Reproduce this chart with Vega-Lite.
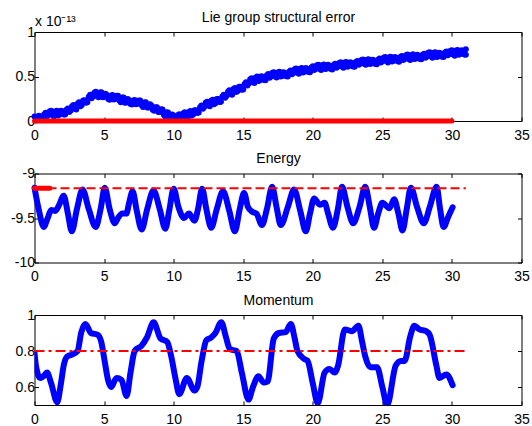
{
  "$schema": "https://vega.github.io/schema/vega-lite/v6.json",
  "padding": {"left": 9.5, "top": 9, "right": 0, "bottom": 0},
  "spacing": 7.5,
  "config": {
    "font": "Liberation Sans",
    "locale": {"number": {"decimal": ".", "thousands": ",", "grouping": [3], "currency": ["$", ""], "minus": "-"}},
    "view": {"stroke": "black", "strokeWidth": 1},
    "axis": {"grid": false, "domain": false, "tickColor": "black", "tickSize": -4, "labelColor": "black", "labelFontSize": 14, "labelPadding": 4, "labelFlush": false, "labelOverlap": false, "titleColor": "black", "titleFontWeight": "normal", "titleFontSize": 14, "format": "~g"},
    "axisBottom": {"labelPadding": 11}
  },
  "datasets": {
    "lie": [
      {"t":0,"v":0.05},{"t":0.2,"v":0.012},{"t":0.4,"v":0.054},{"t":0.6,"v":0.021},{"t":0.8,"v":0.093},{"t":1.0,"v":0.07},{"t":1.2,"v":0.115},{"t":1.4,"v":0.05},{"t":1.6,"v":0.114},{"t":1.8,"v":0.072},
      {"t":2.0,"v":0.11},{"t":2.2,"v":0.073},{"t":2.4,"v":0.141},{"t":2.6,"v":0.118},{"t":2.8,"v":0.179},{"t":3.0,"v":0.13},{"t":3.2,"v":0.21},{"t":3.4,"v":0.18},{"t":3.6,"v":0.232},{"t":3.8,"v":0.211},
      {"t":4.0,"v":0.295},{"t":4.2,"v":0.272},{"t":4.4,"v":0.329},{"t":4.6,"v":0.268},{"t":4.8,"v":0.324},{"t":5.0,"v":0.27},{"t":5.2,"v":0.292},{"t":5.4,"v":0.239},{"t":5.6,"v":0.291},{"t":5.8,"v":0.248},
      {"t":6.0,"v":0.285},{"t":6.2,"v":0.212},{"t":6.4,"v":0.264},{"t":6.6,"v":0.208},{"t":6.8,"v":0.234},{"t":7.0,"v":0.185},{"t":7.2,"v":0.237},{"t":7.4,"v":0.194},{"t":7.6,"v":0.231},{"t":7.8,"v":0.158},
      {"t":8.0,"v":0.21},{"t":8.2,"v":0.152},{"t":8.4,"v":0.174},{"t":8.6,"v":0.115},{"t":8.8,"v":0.155},{"t":9.0,"v":0.1},{"t":9.2,"v":0.129},{"t":9.4,"v":0.048},{"t":9.6,"v":0.096},{"t":9.8,"v":0.038},
      {"t":10.0,"v":0.06},{"t":10.2,"v":0.015},{"t":10.4,"v":0.075},{"t":10.6,"v":0.044},{"t":10.8,"v":0.097},{"t":11.0,"v":0.04},{"t":11.2,"v":0.112},{"t":11.4,"v":0.074},{"t":11.6,"v":0.12},{"t":11.8,"v":0.095},
      {"t":12.0,"v":0.175},{"t":12.2,"v":0.156},{"t":12.4,"v":0.217},{"t":12.6,"v":0.166},{"t":12.8,"v":0.238},{"t":13.0,"v":0.2},{"t":13.2,"v":0.246},{"t":13.4,"v":0.217},{"t":13.6,"v":0.295},{"t":13.8,"v":0.28},
      {"t":14.0,"v":0.345},{"t":14.2,"v":0.296},{"t":14.4,"v":0.372},{"t":14.6,"v":0.338},{"t":14.8,"v":0.384},{"t":15.0,"v":0.355},{"t":15.2,"v":0.435},{"t":15.4,"v":0.42},{"t":15.6,"v":0.481},{"t":15.8,"v":0.428},
      {"t":16.0,"v":0.5},{"t":16.2,"v":0.458},{"t":16.4,"v":0.496},{"t":16.6,"v":0.459},{"t":16.8,"v":0.527},{"t":17.0,"v":0.5},{"t":17.2,"v":0.549},{"t":17.4,"v":0.488},{"t":17.6,"v":0.552},{"t":17.8,"v":0.506},
      {"t":18.0,"v":0.54},{"t":18.2,"v":0.501},{"t":18.4,"v":0.567},{"t":18.6,"v":0.538},{"t":18.8,"v":0.589},{"t":19.0,"v":0.53},{"t":19.2,"v":0.596},{"t":19.4,"v":0.552},{"t":19.6,"v":0.588},{"t":19.8,"v":0.549},
      {"t":20.0,"v":0.615},{"t":20.2,"v":0.584},{"t":20.4,"v":0.633},{"t":20.6,"v":0.572},{"t":20.8,"v":0.636},{"t":21.0,"v":0.59},{"t":21.2,"v":0.622},{"t":21.4,"v":0.579},{"t":21.6,"v":0.642},{"t":21.8,"v":0.611},
      {"t":22.0,"v":0.66},{"t":22.2,"v":0.599},{"t":22.4,"v":0.663},{"t":22.6,"v":0.617},{"t":22.8,"v":0.651},{"t":23.0,"v":0.61},{"t":23.2,"v":0.674},{"t":23.4,"v":0.643},{"t":23.6,"v":0.692},{"t":23.8,"v":0.631},
      {"t":24.0,"v":0.695},{"t":24.2,"v":0.647},{"t":24.4,"v":0.679},{"t":24.6,"v":0.637},{"t":24.8,"v":0.701},{"t":25.0,"v":0.67},{"t":25.2,"v":0.719},{"t":25.4,"v":0.658},{"t":25.6,"v":0.722},{"t":25.8,"v":0.676},
      {"t":26.0,"v":0.71},{"t":26.2,"v":0.667},{"t":26.4,"v":0.729},{"t":26.6,"v":0.697},{"t":26.8,"v":0.746},{"t":27.0,"v":0.685},{"t":27.2,"v":0.749},{"t":27.4,"v":0.703},{"t":27.6,"v":0.736},{"t":27.8,"v":0.693},
      {"t":28.0,"v":0.755},{"t":28.2,"v":0.724},{"t":28.4,"v":0.773},{"t":28.6,"v":0.711},{"t":28.8,"v":0.773},{"t":29.0,"v":0.725},{"t":29.2,"v":0.759},{"t":29.4,"v":0.718},{"t":29.6,"v":0.782},{"t":29.8,"v":0.749},
      {"t":30.0,"v":0.795},{"t":30.2,"v":0.734},{"t":30.4,"v":0.798},{"t":30.6,"v":0.752},{"t":30.8,"v":0.786},{"t":31.0,"v":0.745},{"t":31.0,"v":0.805},
      {"t":0.1,"v":0.005},{"t":0.3,"v":0.058},{"t":0.5,"v":0.02},{"t":0.7,"v":0.077},{"t":0.9,"v":0.054},{"t":1.1,"v":0.11},{"t":1.3,"v":0.065},{"t":1.5,"v":0.107},{"t":1.7,"v":0.063},{"t":1.9,"v":0.116},
      {"t":2.1,"v":0.074},{"t":2.3,"v":0.127},{"t":2.5,"v":0.102},{"t":2.7,"v":0.166},{"t":2.9,"v":0.137},{"t":3.1,"v":0.195},{"t":3.3,"v":0.165},{"t":3.5,"v":0.231},{"t":3.7,"v":0.204},{"t":3.9,"v":0.273},
      {"t":4.1,"v":0.256},{"t":4.3,"v":0.318},{"t":4.5,"v":0.281},{"t":4.7,"v":0.321},{"t":4.9,"v":0.267},{"t":5.1,"v":0.306},{"t":5.3,"v":0.248},{"t":5.5,"v":0.285},{"t":5.7,"v":0.242},{"t":5.9,"v":0.284},
      {"t":6.1,"v":0.231},{"t":6.3,"v":0.263},{"t":6.5,"v":0.206},{"t":6.7,"v":0.246},{"t":6.9,"v":0.192},{"t":7.1,"v":0.231},{"t":7.3,"v":0.188},{"t":7.5,"v":0.23},{"t":7.7,"v":0.177},{"t":7.9,"v":0.209},
      {"t":8.1,"v":0.151},{"t":8.3,"v":0.188},{"t":8.5,"v":0.127},{"t":8.7,"v":0.155},{"t":8.9,"v":0.1},{"t":9.1,"v":0.132},{"t":9.3,"v":0.071},{"t":9.5,"v":0.097},{"t":9.7,"v":0.037},{"t":9.9,"v":0.074},
      {"t":10.1,"v":0.02},{"t":10.3,"v":0.065},{"t":10.5,"v":0.032},{"t":10.7,"v":0.088},{"t":10.9,"v":0.051},{"t":11.1,"v":0.101},{"t":11.3,"v":0.063},{"t":11.5,"v":0.122},{"t":11.7,"v":0.09},{"t":11.9,"v":0.155},
      {"t":12.1,"v":0.138},{"t":12.3,"v":0.204},{"t":12.5,"v":0.174},{"t":12.7,"v":0.227},{"t":12.9,"v":0.189},{"t":13.1,"v":0.248},{"t":13.3,"v":0.214},{"t":13.5,"v":0.276},{"t":13.7,"v":0.26},{"t":13.9,"v":0.33},
      {"t":14.1,"v":0.303},{"t":14.3,"v":0.359},{"t":14.5,"v":0.325},{"t":14.7,"v":0.386},{"t":14.9,"v":0.352},{"t":15.1,"v":0.415},{"t":15.3,"v":0.4},{"t":15.5,"v":0.468},{"t":15.7,"v":0.437},{"t":15.9,"v":0.489},
      {"t":16.1,"v":0.449},{"t":16.3,"v":0.502},{"t":16.5,"v":0.46},{"t":16.7,"v":0.513},{"t":16.9,"v":0.486},{"t":17.1,"v":0.542},{"t":17.3,"v":0.501},{"t":17.5,"v":0.545},{"t":17.7,"v":0.499},{"t":17.9,"v":0.548},
      {"t":18.1,"v":0.503},{"t":18.3,"v":0.554},{"t":18.5,"v":0.525},{"t":18.7,"v":0.581},{"t":18.9,"v":0.542},{"t":19.1,"v":0.588},{"t":19.3,"v":0.544},{"t":19.5,"v":0.595},{"t":19.7,"v":0.551},{"t":19.9,"v":0.602},
      {"t":20.1,"v":0.572},{"t":20.3,"v":0.626},{"t":20.5,"v":0.585},{"t":20.7,"v":0.629},{"t":20.9,"v":0.583},{"t":21.1,"v":0.631},{"t":21.3,"v":0.583},{"t":21.5,"v":0.63},{"t":21.7,"v":0.599},{"t":21.9,"v":0.653},
      {"t":22.1,"v":0.612},{"t":22.3,"v":0.656},{"t":22.5,"v":0.61},{"t":22.7,"v":0.659},{"t":22.9,"v":0.613},{"t":23.1,"v":0.662},{"t":23.3,"v":0.631},{"t":23.5,"v":0.685},{"t":23.7,"v":0.644},{"t":23.9,"v":0.688},
      {"t":24.1,"v":0.641},{"t":24.3,"v":0.688},{"t":24.5,"v":0.64},{"t":24.7,"v":0.689},{"t":24.9,"v":0.658},{"t":25.1,"v":0.712},{"t":25.3,"v":0.671},{"t":25.5,"v":0.715},{"t":25.7,"v":0.669},{"t":25.9,"v":0.718},
      {"t":26.1,"v":0.671},{"t":26.3,"v":0.718},{"t":26.5,"v":0.685},{"t":26.7,"v":0.739},{"t":26.9,"v":0.698},{"t":27.1,"v":0.742},{"t":27.3,"v":0.696},{"t":27.5,"v":0.745},{"t":27.7,"v":0.697},{"t":27.9,"v":0.744},
      {"t":28.1,"v":0.712},{"t":28.3,"v":0.766},{"t":28.5,"v":0.725},{"t":28.7,"v":0.767},{"t":28.9,"v":0.719},{"t":29.1,"v":0.767},{"t":29.3,"v":0.721},{"t":29.5,"v":0.77},{"t":29.7,"v":0.738},{"t":29.9,"v":0.79},
      {"t":30.1,"v":0.747},{"t":30.3,"v":0.791},{"t":30.5,"v":0.745},{"t":30.7,"v":0.794},{"t":30.9,"v":0.748}
    ],
    "lieRef": [{"t":0,"v":0},{"t":30,"v":0}],
    "energy": [
      {"t":0,"v":-9.16},{"t":0.3,"v":-9.4},{"t":0.66,"v":-9.6},{"t":0.95,"v":-9.5},{"t":1.2,"v":-9.41},{"t":1.5,"v":-9.42},{"t":1.75,"v":-9.36},{"t":2.1,"v":-9.25},{"t":2.4,"v":-9.45},{"t":2.68,"v":-9.65},{"t":3.05,"v":-9.4},{"t":3.45,"v":-9.18},{"t":3.9,"v":-9.4},{"t":4.4,"v":-9.6},{"t":4.75,"v":-9.4},{"t":5.05,"v":-9.16},{"t":5.4,"v":-9.4},{"t":5.77,"v":-9.56},{"t":6.0,"v":-9.5},{"t":6.3,"v":-9.45},{"t":6.6,"v":-9.45},{"t":6.8,"v":-9.33},{"t":7.05,"v":-9.2},{"t":7.35,"v":-9.42},{"t":7.7,"v":-9.63},{"t":8.1,"v":-9.4},{"t":8.55,"v":-9.19},{"t":9.0,"v":-9.4},{"t":9.4,"v":-9.62},{"t":9.7,"v":-9.4},{"t":10.0,"v":-9.17},{"t":10.35,"v":-9.38},{"t":10.75,"v":-9.5},{"t":11.1,"v":-9.45},{"t":11.5,"v":-9.53},{"t":11.75,"v":-9.4},{"t":12.05,"v":-9.17},{"t":12.35,"v":-9.4},{"t":12.7,"v":-9.61},{"t":13.1,"v":-9.4},{"t":13.55,"v":-9.2},{"t":14.0,"v":-9.42},{"t":14.4,"v":-9.65},{"t":14.75,"v":-9.4},{"t":15.06,"v":-9.22},{"t":15.35,"v":-9.38},{"t":15.65,"v":-9.43},{"t":15.95,"v":-9.45},{"t":16.35,"v":-9.58},{"t":16.7,"v":-9.4},{"t":17.08,"v":-9.15},{"t":17.4,"v":-9.38},{"t":17.7,"v":-9.58},{"t":18.2,"v":-9.38},{"t":18.66,"v":-9.18},{"t":19.1,"v":-9.42},{"t":19.5,"v":-9.65},{"t":19.8,"v":-9.45},{"t":20.1,"v":-9.28},{"t":20.5,"v":-9.35},{"t":20.85,"v":-9.33},{"t":21.1,"v":-9.45},{"t":21.45,"v":-9.61},{"t":21.8,"v":-9.4},{"t":22.1,"v":-9.15},{"t":22.5,"v":-9.38},{"t":22.9,"v":-9.56},{"t":23.35,"v":-9.38},{"t":23.77,"v":-9.15},{"t":24.1,"v":-9.38},{"t":24.4,"v":-9.61},{"t":24.7,"v":-9.45},{"t":25.0,"v":-9.33},{"t":25.5,"v":-9.39},{"t":25.85,"v":-9.29},{"t":26.15,"v":-9.45},{"t":26.45,"v":-9.64},{"t":26.75,"v":-9.4},{"t":27.05,"v":-9.16},{"t":27.5,"v":-9.38},{"t":27.98,"v":-9.56},{"t":28.4,"v":-9.38},{"t":28.9,"v":-9.15},{"t":29.15,"v":-9.4},{"t":29.4,"v":-9.6},{"t":29.75,"v":-9.48},{"t":30.05,"v":-9.38}
    ],
    "energyRef": [{"t":0,"v":-9.165},{"t":31,"v":-9.165}],
    "energyStart": [{"t":0,"v":-9.165},{"t":1.1,"v":-9.165}],
    "momentum": [
      {"t":0,"v":0.79},{"t":0.1,"v":0.72},{"t":0.41,"v":0.65},{"t":0.65,"v":0.66},{"t":0.9,"v":0.68},{"t":1.2,"v":0.62},{"t":1.63,"v":0.515},{"t":1.9,"v":0.62},{"t":2.1,"v":0.72},{"t":2.36,"v":0.77},{"t":2.7,"v":0.78},{"t":3.1,"v":0.8},{"t":3.35,"v":0.9},{"t":3.65,"v":0.95},{"t":4.06,"v":0.9},{"t":4.55,"v":0.89},{"t":4.8,"v":0.85},{"t":5.05,"v":0.74},{"t":5.28,"v":0.64},{"t":5.5,"v":0.6},{"t":5.9,"v":0.65},{"t":6.25,"v":0.64},{"t":6.62,"v":0.55},{"t":6.9,"v":0.68},{"t":7.2,"v":0.8},{"t":7.7,"v":0.83},{"t":8.08,"v":0.875},{"t":8.56,"v":0.96},{"t":9.05,"v":0.87},{"t":9.54,"v":0.85},{"t":9.8,"v":0.78},{"t":10.15,"v":0.64},{"t":10.4,"v":0.56},{"t":10.95,"v":0.65},{"t":11.5,"v":0.58},{"t":11.7,"v":0.6},{"t":12.0,"v":0.74},{"t":12.35,"v":0.86},{"t":12.7,"v":0.875},{"t":13.0,"v":0.9},{"t":13.43,"v":0.96},{"t":13.75,"v":0.88},{"t":14.04,"v":0.81},{"t":14.53,"v":0.8},{"t":14.9,"v":0.68},{"t":15.38,"v":0.53},{"t":15.7,"v":0.6},{"t":16.1,"v":0.66},{"t":16.47,"v":0.625},{"t":16.75,"v":0.63},{"t":17.2,"v":0.87},{"t":17.57,"v":0.9},{"t":18.05,"v":0.905},{"t":18.42,"v":0.95},{"t":18.7,"v":0.87},{"t":18.9,"v":0.8},{"t":19.4,"v":0.755},{"t":19.63,"v":0.745},{"t":20.0,"v":0.62},{"t":20.36,"v":0.51},{"t":20.85,"v":0.68},{"t":21.2,"v":0.7},{"t":21.58,"v":0.68},{"t":21.82,"v":0.72},{"t":22.3,"v":0.92},{"t":22.8,"v":0.91},{"t":23.28,"v":0.94},{"t":23.55,"v":0.85},{"t":23.77,"v":0.77},{"t":24.14,"v":0.71},{"t":24.62,"v":0.71},{"t":25.0,"v":0.6},{"t":25.35,"v":0.5},{"t":25.96,"v":0.72},{"t":26.33,"v":0.745},{"t":26.6,"v":0.745},{"t":27.0,"v":0.88},{"t":27.3,"v":0.94},{"t":27.66,"v":0.92},{"t":28.15,"v":0.91},{"t":28.4,"v":0.89},{"t":28.88,"v":0.72},{"t":29.1,"v":0.65},{"t":29.6,"v":0.67},{"t":30.05,"v":0.61}
    ],
    "momentumRef": [{"t":0,"v":0.8},{"t":31,"v":0.8}]
  },
  "vconcat": [
    {
      "width": 487, "height": 89,
      "layer": [
        {
          "data": {"name": "lie"},
          "mark": {"type": "point", "filled": true, "size": 36, "color": "#0000ff", "opacity": 1},
          "encoding": {
            "x": {"field": "t", "type": "quantitative", "scale": {"domain": [0, 35], "nice": false}, "axis": {"orient": "bottom", "values": [0,5,10,15,20,25,30,35], "title": null}},
            "y": {"field": "v", "type": "quantitative", "scale": {"domain": [0, 1], "nice": false}, "axis": {"orient": "left", "values": [0, 0.5, 1], "title": "x 10⁻¹³", "titleAngle": 0, "titleX": 0, "titleY": -7, "titleAlign": "left", "titleBaseline": "alphabetic", "titleFontSize": 14}}
          }
        },
        {
          "data": {"name": "lieRef"},
          "mark": {"type": "line", "color": "#ff0000", "strokeWidth": 5, "strokeCap": "round"},
          "encoding": {
            "x": {"field": "t", "type": "quantitative", "axis": {"orient": "top", "values": [0,5,10,15,20,25,30,35], "labels": false, "title": "Lie group structural error", "titleX": 243.5, "titleY": -11, "titleAlign": "center", "titleBaseline": "alphabetic"}},
            "y": {"field": "v", "type": "quantitative", "axis": {"orient": "right", "values": [0, 0.5, 1], "labels": false, "title": null}}
          }
        }
      ],
      "resolve": {"axis": {"x": "independent", "y": "independent"}}
    },
    {
      "width": 487, "height": 89,
      "layer": [
        {
          "data": {"name": "energy"},
          "mark": {"type": "line", "color": "#0000ff", "strokeWidth": 6, "strokeCap": "round", "strokeJoin": "round", "interpolate": "monotone"},
          "encoding": {
            "x": {"field": "t", "type": "quantitative", "scale": {"domain": [0, 35], "nice": false}, "axis": {"orient": "bottom", "values": [0,5,10,15,20,25,30,35], "title": null}},
            "y": {"field": "v", "type": "quantitative", "scale": {"domain": [-10, -9], "nice": false, "zero": false}, "axis": {"orient": "left", "values": [-10, -9.5, -9], "title": null}}
          }
        },
        {
          "data": {"name": "energyRef"},
          "mark": {"type": "line", "color": "#ff0000", "strokeWidth": 2, "strokeDash": [9, 4]},
          "encoding": {
            "x": {"field": "t", "type": "quantitative", "axis": {"orient": "top", "values": [0,5,10,15,20,25,30,35], "labels": false, "title": "Energy", "titleX": 243.5, "titleY": -11, "titleAlign": "center", "titleBaseline": "alphabetic"}},
            "y": {"field": "v", "type": "quantitative", "axis": {"orient": "right", "values": [-10, -9.5, -9], "labels": false, "title": null}}
          }
        },
        {
          "data": {"name": "energyStart"},
          "mark": {"type": "line", "color": "#ff0000", "strokeWidth": 5, "strokeCap": "round"},
          "encoding": {
            "x": {"field": "t", "type": "quantitative", "axis": null},
            "y": {"field": "v", "type": "quantitative", "axis": null}
          }
        }
      ],
      "resolve": {"axis": {"x": "independent", "y": "independent"}}
    },
    {
      "width": 487, "height": 90,
      "layer": [
        {
          "data": {"name": "momentum"},
          "mark": {"type": "line", "color": "#0000ff", "strokeWidth": 6, "strokeCap": "round", "strokeJoin": "round", "interpolate": "monotone", "clip": true},
          "encoding": {
            "x": {"field": "t", "type": "quantitative", "scale": {"domain": [0, 35], "nice": false}, "axis": {"orient": "bottom", "values": [0,5,10,15,20,25,30,35], "title": null}},
            "y": {"field": "v", "type": "quantitative", "scale": {"domain": [0.5, 1], "nice": false, "zero": false}, "axis": {"orient": "left", "values": [0.6, 0.8, 1], "title": null}}
          }
        },
        {
          "data": {"name": "momentumRef"},
          "mark": {"type": "line", "color": "#ff0000", "strokeWidth": 2, "strokeDash": [10, 4, 3, 4]},
          "encoding": {
            "x": {"field": "t", "type": "quantitative", "axis": {"orient": "top", "values": [0,5,10,15,20,25,30,35], "labels": false, "title": "Momentum", "titleX": 243.5, "titleY": -11, "titleAlign": "center", "titleBaseline": "alphabetic"}},
            "y": {"field": "v", "type": "quantitative", "axis": {"orient": "right", "values": [0.6, 0.8, 1], "labels": false, "title": null}}
          }
        }
      ],
      "resolve": {"axis": {"x": "independent", "y": "independent"}}
    }
  ]
}
